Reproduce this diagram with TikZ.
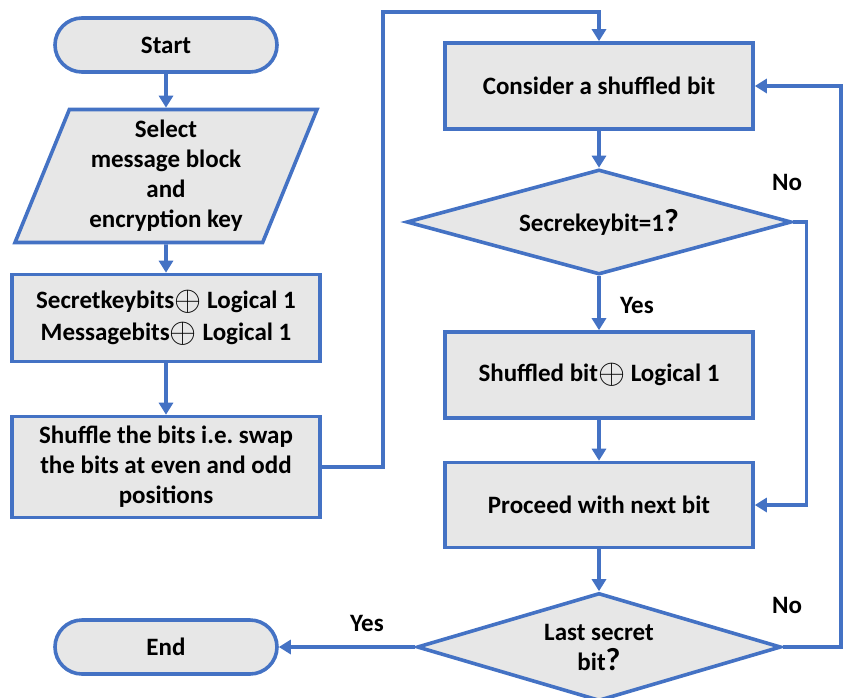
\documentclass[tikz,border=0pt]{standalone}
\usepackage{fontspec}
\setmainfont{Carlito}
\usetikzlibrary{shapes.geometric,shapes.misc,arrows.meta}
\definecolor{flowblue}{RGB}{68,114,196}
\definecolor{flowgray}{RGB}{231,231,231}
\newcommand{\xorsign}{\raisebox{-0.1em}{\scalebox{1.4}{$\oplus$}}}
\newcommand{\askmark}{{\fontsize{32}{30}\selectfont ?}}

\begin{document}
\begin{tikzpicture}[x=1pt, y=-1pt, >={Triangle[length=12pt,width=14pt]},
		every node/.style={font=\fontsize{25}{30}\selectfont\bfseries, align=center},
		box/.style={draw=flowblue, fill=flowgray, line width=3.6pt, inner sep=0pt},
		stepbox/.style={box, rectangle, minimum width=308pt},
		termbox/.style={box, rounded rectangle, minimum width=222pt, minimum height=54pt},
		iobox/.style={box, trapezium, trapezium left angle=64, trapezium right angle=116,
			trapezium stretches body, minimum width=302pt, minimum height=133pt},
		testbox/.style={box, diamond, aspect=3.6},
		flow/.style={->, draw=flowblue, line width=3.6pt}]
	\useasboundingbox (0,0) rectangle (843,697);

	% left column
	\node[termbox] (start) at (166,45) {Start};
	\node[iobox] (select) at (166,176) {Select\\message block\\and\\encryption key};
	\node[stepbox, minimum height=87pt] (xor) at (166,318) {Secretkeybits\xorsign\ Logical 1\\[2pt]Messagebits\xorsign\ Logical 1};
	\node[stepbox, minimum height=101pt] (shuffle) at (166,467) {Shuffle the bits i.e.\ swap\\the bits at even and odd\\positions};
	\node[termbox] (stop) at (166,647) {End};

	% right column
	\node[stepbox, minimum height=86pt] (consider) at (599,86) {Consider a shuffled bit};
	\node[testbox, minimum width=385pt, minimum height=105pt] (keytest) at (599,222) {Secrekeybit=1\askmark};
	\node[stepbox, minimum height=86pt] (flip) at (599,375) {Shuffled bit\xorsign\ Logical 1};
	\node[stepbox, minimum height=85pt] (next) at (599,505) {Proceed with next bit};
	\node[testbox, minimum width=364pt, minimum height=108pt] (lasttest) at (599,647) {Last secret\\bit\askmark};

	\coordinate (top) at (383,12);

	\draw[flow] (start) -- (select);
	\draw[flow] (select) -- (xor);
	\draw[flow] (xor) -- (shuffle);
	\draw[flow] (shuffle.east) -| (top) -| (consider.north);
	\draw[flow] (consider) -- (keytest);
	\draw[flow] (keytest) -- (flip);
	\draw[flow] (keytest.east) -- ++(13,0) |- (next.east);
	\draw[flow] (flip) -- (next);
	\draw[flow] (next) -- (lasttest);
	\draw[flow] (lasttest.east) -- ++(58,0) |- (consider.east);
	\draw[flow] (lasttest.west) -- (stop.east);

	\node (yes1) at (637,305) {Yes};
	\node (no1) at (787,182) {No};
	\node (no2) at (787,605) {No};
	\node (yes2) at (367,623) {Yes};
\end{tikzpicture}
\end{document}
